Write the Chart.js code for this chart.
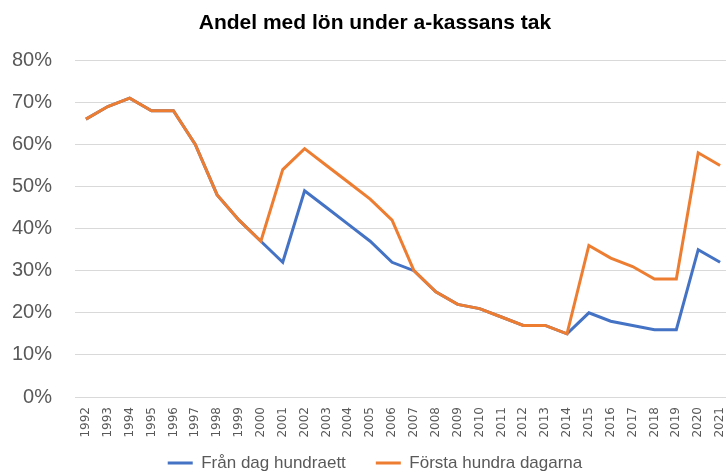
<!DOCTYPE html>
<html>
<head>
<meta charset="utf-8">
<script src="https://cdn.jsdelivr.net/npm/chart.js@4/dist/chart.umd.min.js"></script>
<style>
  html, body { margin: 0; padding: 0; background: #fff; overflow: hidden; }
  /* originalet är beskuret till höger, därför är ytan lite bredare än fönstret */
  #wrap { width: 750px; height: 474px; }
</style>
</head>
<body>
<div id="wrap"><canvas id="myChart"></canvas></div>
<script>
// Årtal
var years = ["1992","1993","1994","1995","1996","1997","1998","1999","2000","2001",
  "2002","2003","2004","2005","2006","2007","2008","2009","2010","2011",
  "2012","2013","2014","2015","2016","2017","2018","2019","2020","2021"];

// Andel i procent
var franDagHundraett = [66, 69, 71, 68, 68, 60, 48, 42, 37, 32,
  49, 45, 41, 37, 32, 30, 25, 22, 21, 19,
  17, 17, 15, 20, 18, 17, 16, 16, 35, 32];
var forstaHundraDagarna = [66, 69, 71, 68, 68, 60, 48, 42, 37, 54,
  59, 55, 51, 47, 42, 30, 25, 22, 21, 19,
  17, 17, 15, 36, 33, 31, 28, 28, 58, 55];

var yTicks = [0, 10, 20, 30, 40, 50, 60, 70, 80];

// titel och legend centreras på hela (beskurna) bilden, inte bara på ritytan
var boxShift = {
  id: "boxShift",
  afterLayout: function (chart) {
    chart.titleBlock.left += 9.5;
    chart.titleBlock.right += 9.5;
    chart.legend.left += 9.5;
    chart.legend.right += 9.5;
    chart.legend.top -= 13.5;
    chart.legend.bottom -= 13.5;
  }
};

document.addEventListener("DOMContentLoaded", function () {
  var ctx = document.getElementById("myChart").getContext("2d");
  new Chart(ctx, {
    type: "line",
    data: {
      labels: years,
      datasets: [
        {
          label: "Från dag hundraett",
          data: franDagHundraett,
          borderColor: "#4472C4",
          backgroundColor: "#4472C4",
          borderWidth: 3,
          pointRadius: 0,
          tension: 0,
          order: 1
        },
        {
          label: "Första hundra dagarna",
          data: forstaHundraDagarna,
          borderColor: "#ED7D31",
          backgroundColor: "#ED7D31",
          borderWidth: 3,
          pointRadius: 0,
          tension: 0,
          order: 0 // orange ritas överst
        }
      ]
    },
    options: {
      responsive: true,
      maintainAspectRatio: false,
      animation: false,
      layout: { padding: { left: 0, right: 19, top: 0, bottom: -21 } },
      plugins: {
        title: {
          display: true,
          text: "Andel med lön under a-kassans tak",
          color: "#000",
          font: { family: "'Liberation Sans', sans-serif", size: 21, weight: "bold" },
          padding: { top: 11, bottom: 24 }
        },
        legend: {
          position: "bottom",
          align: "center",
          labels: {
            usePointStyle: true,
            pointStyle: "line",
            pointStyleWidth: 25,
            color: "#595959",
            font: { family: "'Liberation Sans', sans-serif", size: 17 },
            padding: 30,
            sort: function (a, b) { return a.datasetIndex - b.datasetIndex; }
          }
        },
        tooltip: { enabled: false }
      },
      scales: {
        x: {
          offset: true,
          afterFit: function (axis) {
            axis.height = 41;
          },
          grid: { display: false, drawTicks: false },
          border: { display: false },
          ticks: {
            autoSkip: false,
            minRotation: 90,
            maxRotation: 90,
            padding: 10,
            color: "#595959",
            font: { family: "'DejaVu Sans', sans-serif", size: 12 }
          }
        },
        y: {
          min: 0,
          max: 80,
          afterBuildTicks: function (axis) {
            axis.ticks = yTicks.map(function (v) { return { value: v }; });
          },
          afterFit: function (axis) {
            axis.width = 75;
          },
          grid: { color: "#d9d9d9", lineWidth: 1, drawTicks: false },
          border: { display: false },
          ticks: {
            padding: 23,
            color: "#595959",
            font: { family: "'Liberation Sans', sans-serif", size: 20 },
            callback: function (v) { return v + "%"; }
          }
        }
      }
    },
    plugins: [boxShift]
  });
});
</script>
</body>
</html>
